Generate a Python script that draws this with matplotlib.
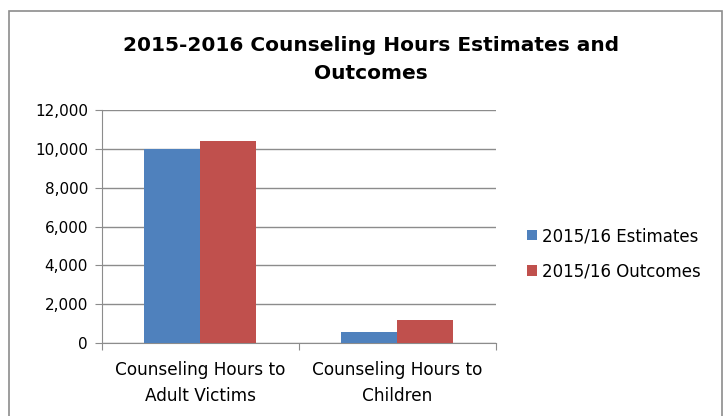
import numpy as np
import matplotlib.pyplot as plt
from matplotlib.patches import Rectangle
from matplotlib.ticker import FuncFormatter

# ---------- Данные ----------
categories = ["Counseling Hours to\nAdult Victims", "Counseling Hours to\nChildren"]
estimates = [10000, 600]
outcomes = [10400, 1200]
series_names = ["2015/16 Estimates", "2015/16 Outcomes"]

BLUE = "#4F81BD"
RED = "#C0504D"
GRID = "#8C8C8C"

plt.rcParams["font.family"] = ["DejaVu Sans"]

fig = plt.figure(figsize=(7.28, 4.16), dpi=100)
ax = fig.add_axes([0.140, 0.1748, 0.541, 0.561])

x = np.arange(len(categories))
w = 0.284
ax.bar(x - w / 2, estimates, w, color=BLUE, label=series_names[0], zorder=3)
ax.bar(x + w / 2, outcomes, w, color=RED, label=series_names[1], zorder=3)

ax.set_xlim(-0.5, 1.5)
ax.set_ylim(0, 12000)
ax.set_yticks(np.arange(0, 12001, 2000))
ax.yaxis.set_major_formatter(FuncFormatter(lambda v, p: f"{int(v):,}"))
ax.grid(axis="y", color=GRID, linewidth=1, zorder=0)

# подписи категорий — по центру, тики — на границах категорий
ax.set_xticks([-0.5, 0.5, 1.5])
ax.set_xticklabels([])
ax.set_xticks(x, minor=True)
ax.set_xticklabels(categories, minor=True, fontsize=12.2, linespacing=1.55)
ax.tick_params(axis="x", which="minor", length=0, pad=13)
ax.tick_params(axis="x", which="major", length=5, color=GRID)
ax.tick_params(axis="y", length=5, color=GRID, labelsize=11, pad=5)

for s in ["top", "right"]:
    ax.spines[s].set_visible(False)
for s in ["left", "bottom"]:
    ax.spines[s].set_color(GRID)

fig.text(0.51, 0.858, "2015-2016 Counseling Hours Estimates and\nOutcomes",
         ha="center", va="center", fontsize=14.5, fontweight="bold",
         linespacing=1.6)

fig.legend(loc="center left", bbox_to_anchor=(0.703, 0.39), frameon=False,
           fontsize=12, handlelength=0.6, handleheight=0.6,
           handletextpad=0.3, labelspacing=1.05)

# рамка всего графика
fig.patches.append(Rectangle((9 / 728, -0.1), 713 / 728, 1.1 - 11 / 416,
                             transform=fig.transFigure, fill=False,
                             edgecolor="#8C8C8C", linewidth=1.2))

fig.savefig("out.png", dpi=100)
